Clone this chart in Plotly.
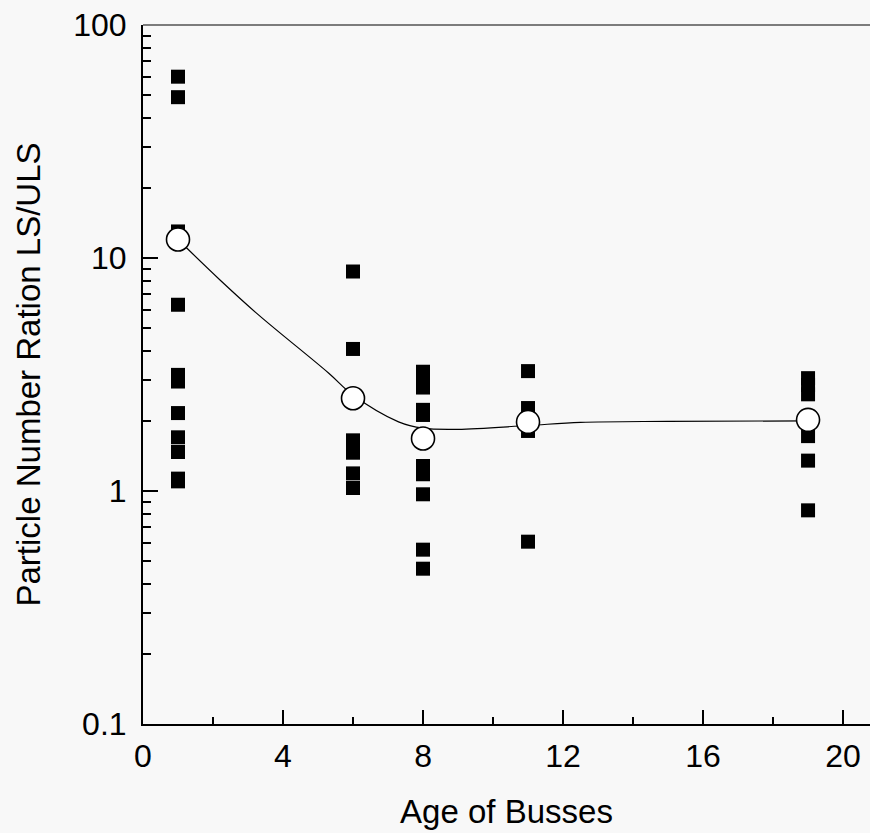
import plotly.graph_objects as go

# Individual bus measurements: age (years) and LS/ULS particle number ratio
age_1 = [1] * 11
ratio_1 = [60, 49, 13, 6.3, 3.15, 2.95, 2.16, 1.70, 1.47, 1.13, 1.10]
age_6 = [6] * 6
ratio_6 = [8.75, 4.07, 1.65, 1.46, 1.19, 1.03]
age_8 = [8] * 10
ratio_8 = [3.25, 3.0, 2.78, 2.23, 2.12, 1.28, 1.18, 0.968, 0.56, 0.464]
age_11 = [11] * 4
ratio_11 = [3.27, 2.27, 1.81, 0.606]
age_19 = [19] * 6
ratio_19 = [3.05, 2.85, 2.6, 1.72, 1.35, 0.826]

# Group averages
mean_age = [1, 6, 8, 11, 19]
mean_ratio = [12.0, 2.50, 1.68, 1.98, 2.02]

# Smoothed trend curve
trend_age = [1, 2.2, 3.3, 5.3, 6, 7.3, 8, 9, 11, 12.5, 15, 19]
trend_ratio = [12.0, 8.05, 5.7, 3.21, 2.58, 1.98, 1.86, 1.84, 1.91, 1.97, 1.99, 2.0]

x_ticks = [0, 4, 8, 12, 16, 20]
y_ticks = [0.1, 1, 10, 100]
y_tick_text = ["0.1", "1", "10", "100"]

all_age = age_1 + age_6 + age_8 + age_11 + age_19
all_ratio = ratio_1 + ratio_6 + ratio_8 + ratio_11 + ratio_19

FONT = "Liberation Sans, Arial, sans-serif"
BG = "#f8f8f8"

fig = go.Figure()

fig.add_trace(go.Scatter(
    x=all_age, y=all_ratio, mode="markers",
    marker=dict(symbol="square", size=14, color="black", line=dict(width=0)),
    showlegend=False, cliponaxis=False,
))

fig.add_trace(go.Scatter(
    x=trend_age, y=trend_ratio, mode="lines",
    line=dict(color="black", width=1.2, shape="spline", smoothing=1.0),
    showlegend=False,
))

fig.add_trace(go.Scatter(
    x=mean_age, y=mean_ratio, mode="markers",
    marker=dict(symbol="circle", size=23, color="white",
                line=dict(color="black", width=1.6)),
    showlegend=False, cliponaxis=False,
))

fig.update_layout(
    width=870, height=833,
    margin=dict(l=143, r=0, t=25, b=109, pad=0),
    paper_bgcolor=BG, plot_bgcolor=BG,
    font=dict(family=FONT, size=32, color="black"),
    shapes=[dict(type="line", xref="paper", yref="paper",
                 x0=0, x1=1, y0=1, y1=1,
                 line=dict(color="black", width=1.2))],
)

fig.update_xaxes(
    range=[0, 20.77], tickmode="array", tickvals=x_ticks,
    ticks="inside", ticklen=14, tickwidth=2, tickcolor="black",
    showline=True, linewidth=2, linecolor="black",
    showgrid=False, zeroline=False,
    ticklabelstandoff=3,
    tickfont=dict(size=32),
    minor=dict(tick0=0, dtick=2, ticks="inside", ticklen=7,
               tickwidth=2, tickcolor="black", showgrid=False),
    title=dict(text="Age of Busses", font=dict(size=33), standoff=26),
)

fig.update_yaxes(
    type="log", range=[-1, 2],
    tickmode="array", tickvals=y_ticks, ticktext=y_tick_text,
    ticks="inside", ticklen=15, tickwidth=2, tickcolor="black",
    showline=True, linewidth=2, linecolor="black",
    showgrid=False, zeroline=False,
    ticklabelstandoff=8,
    tickfont=dict(size=32),
    minor=dict(dtick="D1", ticks="inside", ticklen=8,
               tickwidth=2, tickcolor="black", showgrid=False),
    title=dict(text="Particle Number Ration LS/ULS", font=dict(size=33),
               standoff=23),
)

fig.write_html("out.html")
